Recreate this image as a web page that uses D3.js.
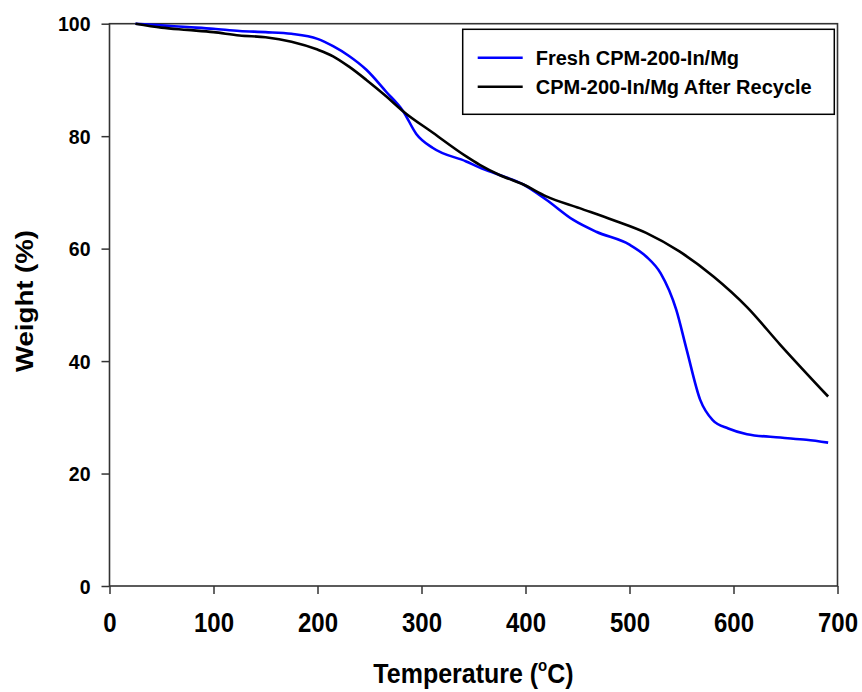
<!DOCTYPE html>
<html><head><meta charset="utf-8">
<script src="https://cdn.jsdelivr.net/npm/d3@7"></script>
<style>body{margin:0;background:#fff}svg{display:block}text{font-family:"Liberation Sans",Arial,sans-serif;font-weight:bold;fill:#000}</style>
</head><body>
<svg id="c" width="862" height="692"></svg>
<script>
const freshT = [25,50,75,100,125,150,175,200,215,230,247,266,282.5,295,311,343,356,375,398,420,446,468,500,516,530,545,555,568,580,595,613,645,670,691];
const freshW = [100,99.7,99.4,99.1,98.7,98.5,98.2,97.3,96,94.3,91.8,87.9,84.4,80.4,77.9,75.5,74.4,73.1,71.4,68.7,65.1,63.0,60.7,58.6,55.6,49.1,42,33.1,29.5,28,27.0,26.4,26,25.5];
const recycT = [25,50,75,100,125,150,175,200,215,230,247,266,282.5,311,343,356,375,398,420,452,484,516,548,581,613,645,691];
const recycW = [100,99.3,98.9,98.5,97.9,97.6,96.8,95.4,94.2,92.4,90.0,87.1,84.4,80.6,76.4,74.9,73.1,71.4,69.3,67.2,65.1,62.8,59.5,55.0,49.6,42.9,33.7];
const xTicks = [0,100,200,300,400,500,600,700];
const yTicks = [0,20,40,60,80,100];
const seriesNames = ["Fresh CPM-200-In/Mg","CPM-200-In/Mg After Recycle"];
const seriesColors = ["#0000ff","#000000"];

const svg = d3.select("#c");
const L=109.5,R=837.5,T=23.7,B=586;
const x = d3.scaleLinear().domain([0,700]).range([L,R]);
const y = d3.scaleLinear().domain([0,100]).range([B,T]);

// frame
svg.append("rect").attr("x",L).attr("y",T).attr("width",R-L).attr("height",B-T)
  .attr("fill","none").attr("stroke","#333").attr("stroke-width",1.6);

// x axis
const xa = svg.append("g").attr("transform",`translate(0,${B})`)
  .call(d3.axisBottom(x).tickValues(xTicks).tickSize(8).tickFormat(d3.format("d")));
xa.select(".domain").remove();
xa.selectAll("line").attr("stroke","#333").attr("stroke-width",1.5);
xa.selectAll("text").attr("font-size",24).attr("y",0).attr("dy",null)
  .attr("transform","translate(0,45.7) scale(1,1.12)").style("font-family",'"Liberation Sans",Arial,sans-serif').style("font-weight","bold");

// y axis
const ya = svg.append("g").attr("transform",`translate(${L},0)`)
  .call(d3.axisLeft(y).tickValues(yTicks).tickSize(8).tickFormat(d3.format("d")));
ya.select(".domain").remove();
ya.selectAll("line").attr("stroke","#333").attr("stroke-width",1.5);
ya.selectAll("text").attr("font-size",19.5).attr("x",-19).attr("dy","0.36em")
  .style("font-family",'"Liberation Sans",Arial,sans-serif').style("font-weight","bold");

// lines
const line = d3.line().x(d=>x(d[0])).y(d=>y(d[1])).curve(d3.curveMonotoneX);
const series = [d3.zip(freshT,freshW), d3.zip(recycT,recycW)];
series.forEach((s,i)=>{
  svg.append("path").datum(s).attr("d",line).attr("fill","none")
    .attr("stroke",seriesColors[i]).attr("stroke-width",2.6).attr("stroke-linejoin","round");
});

// legend
svg.append("rect").attr("x",462.7).attr("y",29.3).attr("width",371.6).attr("height",85)
  .attr("fill","#fff").attr("stroke","#000").attr("stroke-width",1.5);
seriesNames.forEach((n,i)=>{
  const ly = 57.7 + i*29;
  svg.append("line").attr("x1",477.7).attr("x2",522.7).attr("y1",ly).attr("y2",ly)
    .attr("stroke",seriesColors[i]).attr("stroke-width",2.6);
  svg.append("text").attr("x",535.7).attr("y",ly+7).attr("font-size",20).text(n);
});

// axis titles
const xt = svg.append("text").attr("text-anchor","middle").attr("font-size",25)
  .attr("transform","translate(473.5,683) scale(1,1.12)");
xt.append("tspan").text("Temperature (");
xt.append("tspan").attr("font-size",15).attr("dy",-11).text("o");
xt.append("tspan").attr("dy",11).text("C)");

svg.append("text").attr("text-anchor","middle").attr("font-size",24)
  .attr("transform","translate(33,301) rotate(-90) scale(1.15,1)").text("Weight (%)");
</script>
</body></html>
